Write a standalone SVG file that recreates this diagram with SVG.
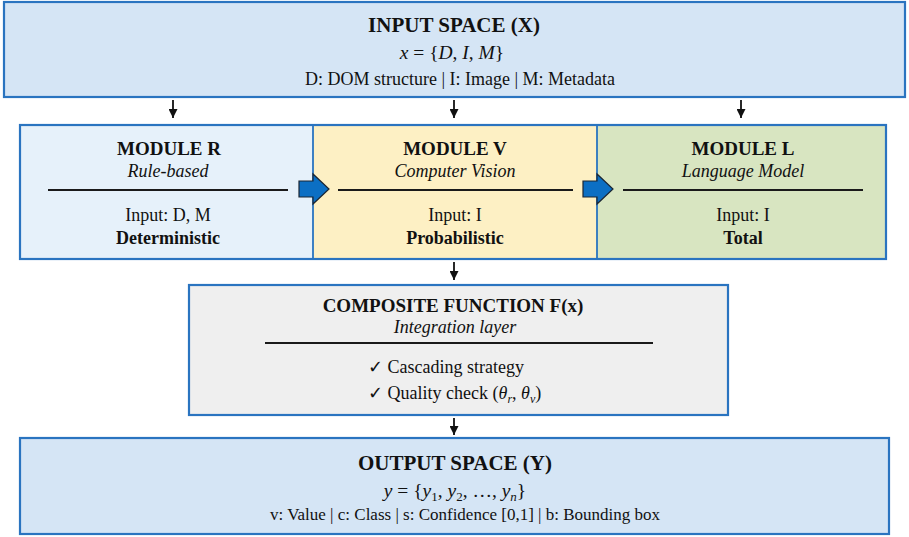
<svg xmlns="http://www.w3.org/2000/svg" width="909" height="537" viewBox="0 0 909 537">
<defs>
<style>
text{font-family:"Liberation Serif","Times New Roman",serif;fill:#111;text-anchor:middle}
.t21{font-size:21px;font-weight:bold}
.t19{font-size:19px;font-weight:bold}
.b18{font-size:18px}
.bb{font-size:18px;font-weight:bold}
.it{font-style:italic}
.math{font-size:19.5px}
.chk{font-family:"DejaVu Sans",sans-serif;font-size:18px}
.box{stroke:#2a74c0;stroke-width:2.2}
.rule{stroke:#1a1a1a;stroke-width:2}
.conn line{stroke:#111;stroke-width:1.8}
.blk{fill:#0b6fc4;stroke:#1b2633;stroke-width:1.2}
</style>
<marker id="ah" viewBox="0 0 10 10" refX="10" refY="5" markerWidth="9" markerHeight="9" markerUnits="userSpaceOnUse" orient="auto">
<path d="M0,0 L10,5 L0,10 Z" fill="#111"/>
</marker>
</defs>
<rect width="909" height="537" fill="#ffffff"/>

<g id="input">
<rect class="box" x="4" y="2" width="901" height="95" fill="#d5e5f5"/>
<text class="t21" x="454" y="32">INPUT SPACE (X)</text>
<text class="math" x="452" y="59"><tspan class="it">x</tspan> = {<tspan class="it">D</tspan>, <tspan class="it">I</tspan>, <tspan class="it">M</tspan>}</text>
<text class="b18" x="460" y="85">D: DOM structure | I: Image | M: Metadata</text>
</g>

<g id="module-r">
<rect x="20" y="125" width="293" height="134" fill="#e6f1fa"/>
<text class="t19" x="169" y="155">MODULE R</text>
<text class="b18 it" x="168" y="177">Rule-based</text>
<line class="rule" x1="48" y1="190" x2="288" y2="190"/>
<text class="b18" x="168" y="221">Input: D, M</text>
<text class="bb" x="168" y="244">Deterministic</text>
</g>

<g id="module-v">
<rect x="313" y="125" width="284" height="134" fill="#fdf0c4"/>
<text class="t19" x="455" y="155">MODULE V</text>
<text class="b18 it" x="455" y="177">Computer Vision</text>
<line class="rule" x1="338" y1="190" x2="573" y2="190"/>
<text class="b18" x="455" y="221">Input: I</text>
<text class="bb" x="455" y="244">Probabilistic</text>
</g>

<g id="module-l">
<rect x="597" y="125" width="289" height="134" fill="#d8e5c1"/>
<text class="t19" x="743" y="155">MODULE L</text>
<text class="b18 it" x="743" y="177">Language Model</text>
<line class="rule" x1="623" y1="190" x2="863" y2="190"/>
<text class="b18" x="743" y="221">Input: I</text>
<text class="bb" x="743" y="244">Total</text>
</g>

<g id="module-frame">
<rect class="box" x="20" y="125" width="866" height="134" fill="none"/>
<line x1="313" y1="125" x2="313" y2="259" stroke="#2a74c0" stroke-width="1.8"/>
<line x1="597" y1="125" x2="597" y2="259" stroke="#2a74c0" stroke-width="1.8"/>
</g>

<g id="composite">
<rect class="box" x="189" y="285" width="539" height="130" fill="#efefef"/>
<text class="t19" x="453" y="312">COMPOSITE FUNCTION F(x)</text>
<text class="b18 it" x="455" y="333">Integration layer</text>
<line class="rule" x1="265" y1="343" x2="653" y2="343"/>
<text class="b18" x="368" y="373" style="text-anchor:start"><tspan class="chk">✓</tspan> Cascading strategy</text>
<text class="b18" x="368" y="399" style="text-anchor:start"><tspan class="chk">✓</tspan> Quality check (<tspan class="it">θ</tspan><tspan class="it" font-size="12" dy="4">r</tspan><tspan dy="-4">, </tspan><tspan class="it">θ</tspan><tspan class="it" font-size="12" dy="4">v</tspan><tspan dy="-4">)</tspan></text>
</g>

<g id="output">
<rect class="box" x="20" y="438" width="869" height="96" fill="#d5e5f5"/>
<text class="t21" x="455" y="470">OUTPUT SPACE (Y)</text>
<text class="math" x="455" y="497"><tspan class="it">y</tspan> = {<tspan class="it">y</tspan><tspan font-size="13" dy="4">1</tspan><tspan dy="-4">, </tspan><tspan class="it">y</tspan><tspan font-size="13" dy="4">2</tspan><tspan dy="-4">, …, </tspan><tspan class="it">y</tspan><tspan class="it" font-size="13" dy="4">n</tspan><tspan dy="-4">}</tspan></text>
<text class="b18" x="465" y="520" style="font-size:17px">v: Value | c: Class | s: Confidence [0,1] | b: Bounding box</text>
</g>

<g id="connectors" class="conn">
<line x1="173" y1="100" x2="173" y2="118" marker-end="url(#ah)"/>
<line x1="454" y1="100" x2="454" y2="118" marker-end="url(#ah)"/>
<line x1="741" y1="100" x2="741" y2="118" marker-end="url(#ah)"/>
<line x1="454" y1="262" x2="454" y2="280" marker-end="url(#ah)"/>
<line x1="454" y1="418" x2="454" y2="435" marker-end="url(#ah)"/>
<path class="blk" d="M299,181 H313 V174 L329,189 L313,204 V197 H299 Z"/>
<path class="blk" d="M583,181 H597 V174 L613,189 L597,204 V197 H583 Z"/>
</g>
</svg>
